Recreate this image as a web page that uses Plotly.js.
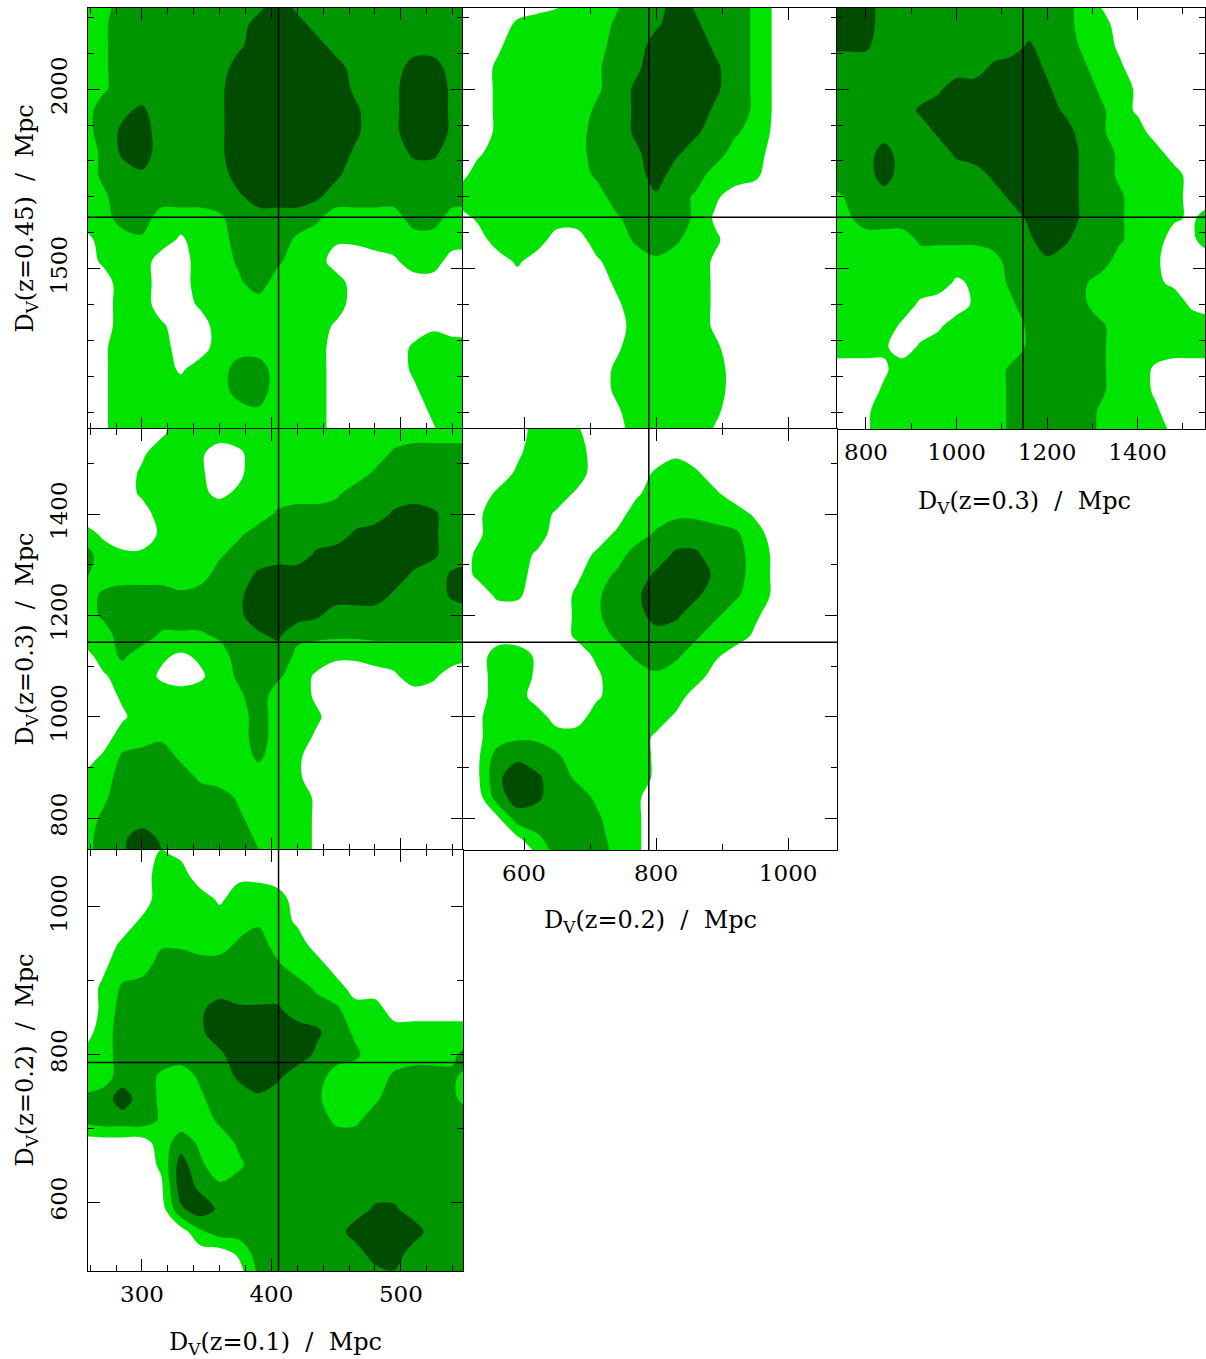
<!DOCTYPE html>
<html>
<head>
<meta charset="utf-8">
<script src="https://cdn.plot.ly/plotly-3.0.1.min.js"></script>
<style>
html,body{margin:0;padding:0;background:#ffffff;}
#chart{width:1206px;height:1359px;}
</style>
</head>
<body>
<div id="chart"></div>
<script>
// ---------------- grid coordinates (parameter values, Mpc) ----------------
const gridD01  = [255,270,285,300,315,330,345,360,375,390,405,420,435,450,465,480,495,510,525,540,555];
const gridD02  = [500,530,560,590,620,650,680,710,740,770,800,830,860,890,920,950,980,1010,1040,1070,1100];
const gridD03  = [720,760,800,840,880,920,960,1000,1040,1080,1120,1160,1200,1240,1280,1320,1360,1400,1440,1480,1520,1560,1600];
const gridD045 = [1040,1100,1160,1220,1280,1340,1400,1460,1520,1580,1640,1700,1760,1820,1880,1940,2000,2060,2120,2180,2240];

// fiducial (true) values marked by the cross-hair lines
const truthD01 = 405.5, truthD02 = 789, truthD03 = 1147, truthD045 = 1643;

// axis ranges
const rangeD01 = [258.3, 548];
const rangeD02x = [507.6, 1074];
const rangeD02y = [506.5, 1077];
const rangeD03x = [736, 1549];
const rangeD03y = [737, 1568];
const rangeD045 = [1053, 2226];

// confidence level grids (0 = outside, 3 = outer, 6 = middle, 9 = inner), rows listed from TOP (high y) to BOTTOM
const levelsD01vsD045 = [
"336666666696666666666",
"346666666999666666666",
"346666667999966666666",
"346666669999996669966",
"346666679999997679976",
"367866679999998679976",
"368966679999998679976",
"358966679999997668866",
"356766669999986666666",
"346666667999866666666",
"336633346666533336633",
"033431336664322333333",
"023300335653300013300",
"003300334633330000000",
"003300233333330000000",
"003320033333310000100",
"013330033333300002333",
"013331336633300002333",
"013333336633300001333",
"013333333433300000233",
"013331333333300000133"];

const levelsD02vsD045 = [
"000001334669766410000",
"000233335679866410000",
"001333336699976410000",
"002333346799986410000",
"002333346899986410000",
"002333356899976410000",
"002333366899865310000",
"013333366798663300000",
"033333356696633200000",
"333333336676420000000",
"023333334666410000000",
"003330033565320000000",
"000200013343310000000",
"000000002333310000000",
"000000001333310000000",
"000000000333310000000",
"000000001333320000000",
"000000002333330000000",
"000000002333330000000",
"000000001333320000000",
"000000000333310000000"];

const levelsD03vsD045 = [
"99966666666666310000000",
"99966666666666330000000",
"88866666666866431000000",
"66666666689976532000000",
"66666679999986643100000",
"66666899999997653100000",
"66666689999999653300000",
"66696668999999764330000",
"66696666689999764333000",
"35666666668999765333000",
"34666666666899765332133",
"33333555566798665330133",
"33333333336676663320000",
"33333331235666533321000",
"33333100234666533333100",
"33331013333566653333333",
"33320233333566653333333",
"00013333335666653310000",
"00023333335666653310000",
"00133333335666643320000",
"00133333335666643331000"];

const levelsD01vsD03 = [
"000013333333333333333",
"000013333333333333333",
"000133201333333356666",
"000233201333333566666",
"000233212333346666666",
"000033333356666689866",
"310023334666668999866",
"632233346666899999866",
"533333366899999997689",
"356665667999999976689",
"356666667999866666666",
"336644456785555555555",
"035321236664322333332",
"013310135653100013200",
"002333334633100000000",
"001333333633200000000",
"003343333633100000000",
"025664333532000000000",
"236666433332000000000",
"346666664333100000000",
"356666665333100000000",
"367976666433100000000",
"367986666533100000000"];

const levelsD02vsD03 = [
"000033100000000000000",
"000033200000000000000",
"000133300001000000000",
"000233300023200000000",
"002333100133320000000",
"013331000334433100000",
"013330002356665300000",
"023310023668866310000",
"023300135689976310000",
"002200246799865310000",
"000000246698653200000",
"000000235666533100000",
"003310023565320000000",
"003310013343300000000",
"003300013333000000000",
"013330033331000000000",
"013443333310000000000",
"016765333310000000000",
"017986433310000000000",
"006986643200000000000",
"001666653200000000000",
"000146663200000000000",
"000015664200000000000"];

const levelsD01vsD02 = [
"000000000000000000000",
"000021000000000000000",
"000033001100000000000",
"000033313330000000000",
"000233333431000000000",
"002344335633000000000",
"013366666653300000000",
"025666666666430000000",
"026666798886653300000",
"036666799999864333333",
"236666679999765333346",
"336643568986633356653",
"569643466766533466653",
"566643356666644666666",
"000036435666666666666",
"000029534666666666666",
"000019756666666666666",
"000007976666666886666",
"000000466666669999666",
"000000002666666996666",
"000000000566666676666"];

// ---------------- styling ----------------
const levelColors = [[0,'#ffffff'],[1/3,'#00e400'],[2/3,'#009600'],[1,'#004c00']];
const tickFont = {family:'DejaVu Serif', size:23, color:'#000000'};
const titleFont = {family:'DejaVu Serif', size:24, color:'#000000'};

const W = 1206, H = 1359;
const colPx = [[88,463],[463,837],[837,1205]];
const rowPx = [[8,429],[429,850],[850,1271]];
const xdom = c => [colPx[c][0]/W, colPx[c][1]/W];
const ydom = r => [1 - rowPx[r][1]/H, 1 - rowPx[r][0]/H];

function parseRows(rows){
  return rows.slice().reverse().map(s => s.split('').map(Number));
}

function contourTrace(xg, yg, rows, xa, ya){
  return {
    type:'contour', x:xg, y:yg, z:parseRows(rows), xaxis:xa, yaxis:ya,
    autocontour:false,
    contours:{start:1.5, end:7.5, size:3, coloring:'fill', showlines:false},
    colorscale:levelColors, showscale:false,
    line:{width:0, smoothing:1},
    hoverinfo:'skip'
  };
}

function axis(domain, range, dtick, minorDtick, labels, anchor, extra){
  return Object.assign({
    domain:domain, range:range, autorange:false, anchor:anchor,
    tick0:0, dtick:dtick, ticks:'inside', ticklen:12, tickwidth:1, tickcolor:'#000',
    minor:{tick0:0, dtick:minorDtick, ticks:'inside', ticklen:6, tickwidth:1, tickcolor:'#000'},
    showline:true, linecolor:'#000', linewidth:1, mirror:'ticks',
    showgrid:false, zeroline:false, showticklabels:labels, tickfont:tickFont,
    fixedrange:true
  }, extra || {});
}

const xLab = {ticklabelstandoff:2};
const yLab = {tickangle:-90, ticklabelstandoff:11};

const data = [
  contourTrace(gridD01, gridD045, levelsD01vsD045, 'x',  'y'),
  contourTrace(gridD02, gridD045, levelsD02vsD045, 'x2', 'y2'),
  contourTrace(gridD03, gridD045, levelsD03vsD045, 'x3', 'y3'),
  contourTrace(gridD01, gridD03,  levelsD01vsD03,  'x4', 'y4'),
  contourTrace(gridD02, gridD03,  levelsD02vsD03,  'x5', 'y5'),
  contourTrace(gridD01, gridD02,  levelsD01vsD02,  'x6', 'y6')
];

const panels = [
  ['x','y',  truthD01, truthD045],
  ['x2','y2',truthD02, truthD045],
  ['x3','y3',truthD03, truthD045],
  ['x4','y4',truthD01, truthD03],
  ['x5','y5',truthD02, truthD03],
  ['x6','y6',truthD01, truthD02]
];
const shapes = [];
panels.forEach(p => {
  shapes.push({type:'line', xref:p[0], yref:p[1]+' domain', x0:p[2], x1:p[2], y0:0, y1:1, line:{color:'#000', width:1.5}});
  shapes.push({type:'line', xref:p[0]+' domain', yref:p[1], x0:0, x1:1, y0:p[3], y1:p[3], line:{color:'#000', width:1.5}});
});

const sp = '\u00a0\u00a0';
function ttl(z){ return 'D<sub>V</sub>(z=' + z + ')' + sp + '/' + sp + 'Mpc'; }
const annotations = [
  {text:ttl('0.1'), x:275.5/W, y:1-1343/H, xref:'paper', yref:'paper', xanchor:'center', yanchor:'middle', showarrow:false, font:titleFont},
  {text:ttl('0.2'), x:650/W,   y:1-922/H,  xref:'paper', yref:'paper', xanchor:'center', yanchor:'middle', showarrow:false, font:titleFont},
  {text:ttl('0.3'), x:1024/W,  y:1-502/H,  xref:'paper', yref:'paper', xanchor:'center', yanchor:'middle', showarrow:false, font:titleFont},
  {text:ttl('0.45'), x:26/W, y:1-218.5/H,  xref:'paper', yref:'paper', xanchor:'center', yanchor:'middle', textangle:-90, showarrow:false, font:titleFont},
  {text:ttl('0.3'),  x:26/W, y:1-639.5/H,  xref:'paper', yref:'paper', xanchor:'center', yanchor:'middle', textangle:-90, showarrow:false, font:titleFont},
  {text:ttl('0.2'),  x:26/W, y:1-1060.5/H, xref:'paper', yref:'paper', xanchor:'center', yanchor:'middle', textangle:-90, showarrow:false, font:titleFont}
];

const layout = {
  width:W, height:H, margin:{l:0,r:0,t:0,b:0,pad:0},
  paper_bgcolor:'#ffffff', plot_bgcolor:'#ffffff', showlegend:false,
  xaxis:  axis(xdom(0), rangeD01,  100, 20,  false, 'y'),
  yaxis:  axis(ydom(0), rangeD045, 500, 100, true,  'x', yLab),
  xaxis2: axis(xdom(1), rangeD02x, 200, 100, false, 'y2'),
  yaxis2: axis(ydom(0), rangeD045, 500, 100, false, 'x2'),
  xaxis3: axis(xdom(2), rangeD03x, 200, 100, true,  'y3', xLab),
  yaxis3: axis(ydom(0), rangeD045, 500, 100, false, 'x3'),
  xaxis4: axis(xdom(0), rangeD01,  100, 20,  false, 'y4'),
  yaxis4: axis(ydom(1), rangeD03y, 200, 100, true,  'x4', yLab),
  xaxis5: axis(xdom(1), rangeD02x, 200, 100, true,  'y5', xLab),
  yaxis5: axis(ydom(1), rangeD03y, 200, 100, false, 'x5'),
  xaxis6: axis(xdom(0), rangeD01,  100, 20,  true,  'y6', xLab),
  yaxis6: axis(ydom(2), rangeD02y, 200, 100, true,  'x6', yLab),
  shapes:shapes,
  annotations:annotations
};

Plotly.newPlot('chart', data, layout, {displayModeBar:false, staticPlot:true});
</script>
</body>
</html>
